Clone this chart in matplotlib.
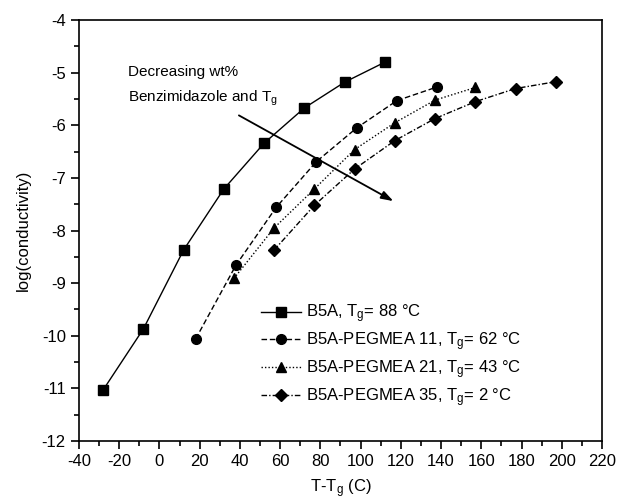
import matplotlib
matplotlib.use("Agg")
import matplotlib.pyplot as plt
from matplotlib.ticker import MultipleLocator

plt.rcParams['font.family'] = ['Liberation Sans', 'DejaVu Sans']
plt.rcParams['mathtext.fontset'] = 'custom'
plt.rcParams['mathtext.rm'] = 'Liberation Sans'
plt.rcParams['mathtext.it'] = 'Liberation Sans'
plt.rcParams['axes.unicode_minus'] = False

# Data
b5a_x = [-28, -8, 12, 32, 52, 72, 92, 112]
b5a_y = [-11.03, -9.87, -8.37, -7.21, -6.34, -5.67, -5.18, -4.80]
p11_x = [18, 38, 58, 78, 98, 118, 138]
p11_y = [-10.06, -8.66, -7.56, -6.69, -6.05, -5.53, -5.27]
p21_x = [37, 57, 77, 97, 117, 137, 157]
p21_y = [-8.91, -7.95, -7.21, -6.46, -5.95, -5.52, -5.28]
p35_x = [57, 77, 97, 117, 137, 157, 177, 197]
p35_y = [-8.37, -7.52, -6.83, -6.29, -5.87, -5.55, -5.30, -5.17]
labels = ['B5A, T$_\\mathrm{g}$= 88 \u00b0C',
          'B5A-PEGMEA 11, T$_\\mathrm{g}$= 62 \u00b0C',
          'B5A-PEGMEA 21, T$_\\mathrm{g}$= 43 \u00b0C',
          'B5A-PEGMEA 35, T$_\\mathrm{g}$= 2 \u00b0C']

fig = plt.figure(figsize=(6.17, 5.04), dpi=100)
ax = fig.add_axes([0.128, 0.125, 0.8477, 0.835])

ms = 7
ax.plot(b5a_x, b5a_y, '-', color='black', marker='s', ms=ms, lw=1.0, label=labels[0])
ax.plot(p11_x, p11_y, color='black', ls=(0, (4, 2)), marker='o', ms=ms, lw=1.0, label=labels[1])
ax.plot(p21_x, p21_y, color='black', ls=(0, (1, 1.5)), marker='^', ms=ms + 0.5, lw=1.0, label=labels[2])
ax.plot(p35_x, p35_y, color='black', ls=(0, (4, 1.5, 1, 1.5)), marker='D', ms=ms - 0.5, lw=1.0, label=labels[3])

ax.set_xlim(-40, 220)
ax.set_ylim(-12, -4)
ax.xaxis.set_major_locator(MultipleLocator(20))
ax.xaxis.set_minor_locator(MultipleLocator(10))
ax.yaxis.set_major_locator(MultipleLocator(1))
ax.yaxis.set_minor_locator(MultipleLocator(0.5))
ax.tick_params(which='both', direction='out', top=False, right=False, labelsize=12, width=1.2)
ax.tick_params(which='major', length=6)
ax.tick_params(which='minor', length=3.5)
for s in ax.spines.values():
    s.set_linewidth(1.2)

ax.set_xlabel('T-T$_\\mathrm{g}$ (C)', fontsize=12, labelpad=6)
ax.set_ylabel('log(conductivity)', fontsize=12, labelpad=8)

ax.annotate('', xy=(116.3, -7.44), xytext=(39.5, -5.81),
            arrowprops=dict(arrowstyle='-|>,head_length=0.6,head_width=0.2', color='black', lw=1.3,
                            mutation_scale=12, shrinkA=0, shrinkB=0))
ax.text(-15.5, -4.98, 'Decreasing wt%', fontsize=11, va='center', ha='left')
ax.text(-15.5, -5.49, 'Benzimidazole and T$_\\mathrm{g}$', fontsize=11, va='center', ha='left')

ax.legend(loc='upper left', bbox_to_anchor=(0.335, 0.345), frameon=False,
          fontsize=12, handlelength=2.4, handletextpad=0.3, labelspacing=0.32,
          borderaxespad=0)

fig.savefig('out.png', dpi=100)
